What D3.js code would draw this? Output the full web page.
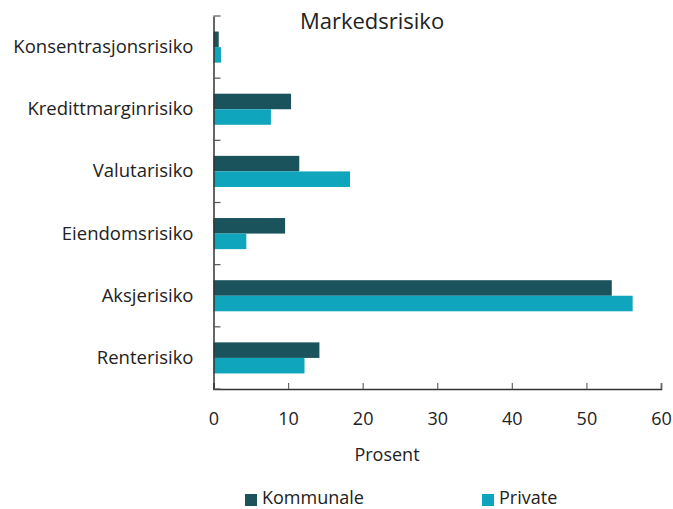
<!DOCTYPE html>
<html><head><meta charset="utf-8">
<script src="https://cdn.jsdelivr.net/npm/d3@7"></script>
<style>body{margin:0;background:#fff;} text{font-family:"Open Sans",sans-serif;fill:#222;}</style>
</head><body>
<svg id="c" width="673" height="509"></svg>
<script>
const categories = ["Konsentrasjonsrisiko","Kredittmarginrisiko","Valutarisiko","Eiendomsrisiko","Aksjerisiko","Renterisiko"];
const kommunale = [0.7, 10.4, 11.5, 9.6, 53.4, 14.2];
const privat = [1.0, 7.7, 18.3, 4.4, 56.2, 12.2];
const seriesNames = ["Kommunale","Private"];
const xTicks = [0,10,20,30,40,50,60];
const colors = ["#1a535c","#0ea5bd"];

const svg = d3.select("#c");
const m = {l:213.5, r:661, t:16, b:389};
const x = d3.scaleLinear().domain([0,60]).range([m.l, m.r]);
const y = d3.scaleBand().domain(categories).range([m.t, m.b]).paddingInner(0).paddingOuter(0);
const yi = d3.scaleBand().domain(seriesNames).range([y.bandwidth()*0.25, y.bandwidth()*0.75]);

const data = categories.map((c,i)=>({c, vals:[kommunale[i], privat[i]]}));
const g = svg.append("g");
data.forEach(d=>{
  seriesNames.forEach((s,j)=>{
    g.append("rect")
      .attr("x", x(0))
      .attr("y", y(d.c)+yi(s))
      .attr("width", x(d.vals[j])-x(0))
      .attr("height", yi.bandwidth())
      .attr("fill", colors[j]);
  });
});

// x axis
const xa = svg.append("g").attr("transform",`translate(0,${m.b})`)
  .call(d3.axisBottom(x).tickValues(xTicks).tickSize(-6).tickPadding(23));
xa.select(".domain").attr("stroke","#333").attr("stroke-width",1.5);
xa.selectAll(".tick line").attr("stroke","#666").attr("stroke-width",1.2);
xa.selectAll("text").style("font-size","18px").attr("fill","#222");

// y axis
const ya = svg.append("g").attr("transform",`translate(${m.l},0)`)
  .call(d3.axisLeft(y).tickSize(0).tickPadding(20));
ya.select(".domain").attr("stroke","#333").attr("stroke-width",1.5);
ya.selectAll("text").style("font-size","18.5px").attr("fill","#222");
// y boundary ticks (inward)
const bounds = categories.map(c=>y(c)).concat([m.b]);
ya.selectAll(".bt").data(bounds).enter().append("line")
  .attr("x1",0).attr("x2",7).attr("y1",d=>d).attr("y2",d=>d)
  .attr("stroke","#555").attr("stroke-width",1.2);

svg.append("text").attr("x",372).attr("y",29).attr("text-anchor","middle")
  .style("font-size","22px").text("Markedsrisiko");
svg.append("text").attr("x",387).attr("y",461).attr("text-anchor","middle")
  .style("font-size","18px").text("Prosent");

const legX = [245, 482];
seriesNames.forEach((s,j)=>{
  svg.append("rect").attr("x",legX[j]).attr("y",494).attr("width",12).attr("height",12).attr("fill",colors[j]);
  svg.append("text").attr("x",legX[j]+17).attr("y",504).style("font-size","18px").text(s);
});
</script>
</body></html>
